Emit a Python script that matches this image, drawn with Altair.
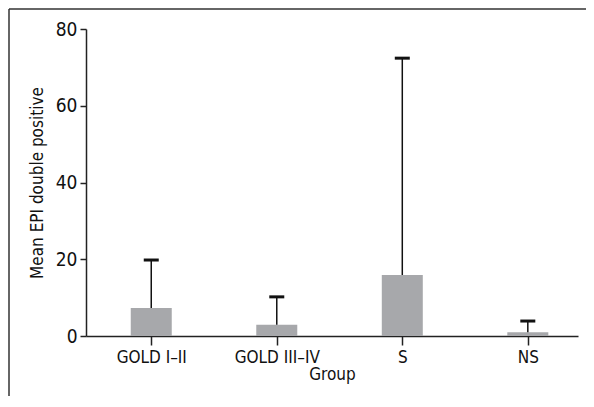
import json
import altair as alt
import pandas as pd

groups = ["GOLD I–II", "GOLD III–IV", "S", "NS"]
means = [7.3, 2.9, 15.9, 1.0]
upper = [19.8, 10.2, 72.4, 3.9]

df = pd.DataFrame({"idx": list(range(len(groups))), "group": groups, "mean": means, "upper": upper})

FONT = "Liberation Sans Narrow, DejaVu Sans Condensed, sans-serif"
label_expr = json.dumps(groups) + "[datum.value]"

x = alt.X("idx:Q", title="Group",
          scale=alt.Scale(domain=[-0.48, 3.36], nice=False, zero=False),
          axis=alt.Axis(values=[0, 1, 2, 3], labelExpr=label_expr, grid=False,
                        tickSize=9, tickWidth=1.5, domainWidth=1.5, domainColor="#222",
                        tickColor="#222", labelFontSize=17, titleFontSize=17,
                        labelColor="#111", titleColor="#111", labelPadding=4,
                        titlePadding=1, titleFontWeight="normal", labelFont=FONT, titleFont=FONT))
y = alt.Y("mean:Q", title="Mean EPI double positive",
          scale=alt.Scale(domain=[0, 80], nice=False),
          axis=alt.Axis(values=[0, 20, 40, 60, 80], grid=False, tickSize=6, tickWidth=1.5,
                        domainWidth=1.5, domainColor="#222", tickColor="#222",
                        labelFontSize=19, titleFontSize=17, labelColor="#111",
                        titleColor="#111", labelPadding=3, titlePadding=9,
                        titleFontWeight="normal", labelFont=FONT, titleFont=FONT))

base = alt.Chart(df)
bars = base.mark_bar(size=41, color="#a7a8ab").encode(x=x, y=y)
err = base.mark_rule(color="#111", strokeWidth=1.5).encode(x="idx:Q", y="mean:Q", y2="upper:Q")
caps = base.mark_tick(orient="horizontal", size=15, thickness=3, color="#111", opacity=1).encode(
    x="idx:Q", y="upper:Q")

frame_left = alt.Chart(df.head(1)).mark_rule(color="#333", strokeWidth=1.5, clip=False).encode(
    x=alt.value(-77), y=alt.value(-20), y2=alt.value(400))
frame_top = alt.Chart(df.head(1)).mark_rule(color="#333", strokeWidth=1.5, clip=False).encode(
    x=alt.value(-77), x2=alt.value(510), y=alt.value(-20))

chart = alt.layer(bars, err, caps, frame_left, frame_top).properties(
    width=492, height=307,
    background="white",
    autosize=alt.AutoSizeParams(type="none"),
    padding={"left": 78, "top": 21, "right": 8, "bottom": 60},
).configure_view(strokeWidth=0, stroke="transparent")

chart.save("out.html", embed_options={"renderer": "svg", "actions": False})
